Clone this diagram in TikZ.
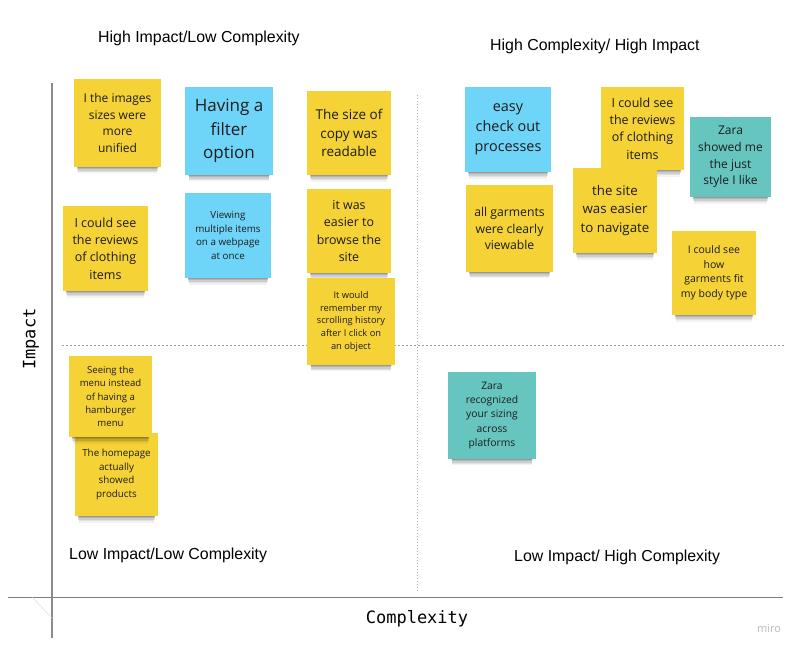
\documentclass[tikz,border=0pt]{standalone}
\usepackage{fontspec}
\setmainfont{Open Sans}
\newfontfamily\arialfont{Liberation Sans}
\newfontfamily\monofont{DejaVu Sans Mono}
\usetikzlibrary{shadows}

\definecolor{noteyellow}{HTML}{F5D236}
\definecolor{noteblue}{HTML}{6FD5F8}
\definecolor{noteteal}{HTML}{66C5BF}
\definecolor{notetext}{HTML}{1C1C1C}
\definecolor{axisgray}{HTML}{8C8C8C}

\newcommand{\nsize}[1]{\fontsize{#1}{#1}\selectfont\baselineskip=1.38\baselineskip}

\tikzset{
  sticky/.style={rectangle, inner sep=0pt, align=center, text=notetext,
    general shadow={fill=black, opacity=0.05, shadow yshift=-12pt, shadow scale=0.9},
    general shadow={fill=black, opacity=0.07, shadow yshift=-10pt, shadow scale=0.91},
    general shadow={fill=black, opacity=0.09, shadow yshift=-8pt, shadow scale=0.92},
    general shadow={fill=black, opacity=0.12, shadow yshift=-6pt, shadow scale=0.92},
    general shadow={fill=black, opacity=0.15, shadow yshift=-4pt, shadow scale=0.93}},
  yellownote/.style={sticky, fill=noteyellow},
  bluenote/.style={sticky, fill=noteblue},
  tealnote/.style={sticky, fill=noteteal},
  quadlabel/.style={font=\arialfont\fontsize{15.9}{19}\selectfont, anchor=base west, inner sep=0pt},
  axislabel/.style={font=\monofont\fontsize{17}{20}\selectfont, inner sep=0pt},
}

\begin{document}
\begin{tikzpicture}[x=1pt,y=1pt]
\useasboundingbox (0,-652) rectangle (800,0);
%axes
\draw[axisgray, line width=1.4pt] (52,-83) -- (52,-638);
\draw[axisgray!90!black, line width=1pt] (8,-597) -- (783,-597);
\draw[gray!35] (32,-597) -- (52,-618);
%quadrant lines
\draw[gray!75, dash pattern=on 2pt off 2pt, line width=0.7pt] (62,-345) -- (785,-345);
\draw[gray!60, dash pattern=on 1pt off 2pt, line width=1pt] (417,-95) -- (417,-593);

%quadrant titles
\node[quadlabel] (qHILC) at (98,-43) {High Impact/Low Complexity};
\node[quadlabel] (qHCHI) at (490,-51) {High Complexity/ High Impact};
\node[quadlabel] (qLILC) at (69,-559) {Low Impact/Low Complexity};
\node[quadlabel] (qLIHC) at (514,-561) {Low Impact/ High Complexity};
\node[axislabel, rotate=90] (lImpact) at (31,-339) {Impact};
\node[axislabel, anchor=base] (lComplexity) at (417,-623) {Complexity};
\node[text=gray!55, font=\fontsize{11}{13}\selectfont, inner sep=0pt] (lMiro) at (769,-629) {miro};

%high impact / low complexity
\node[yellownote, minimum width=87, minimum height=88, font=\nsize{12}] (imgsize) at (117.5,-123) {I the images\\sizes were\\more\\unified};
\node[bluenote, minimum width=88, minimum height=88, font=\nsize{17}] (filter) at (229,-131) {Having a\\filter\\option};
\node[yellownote, minimum width=84, minimum height=84, font=\nsize{13.5}] (copysize) at (349,-133) {The size of\\copy was\\readable};
\node[yellownote, minimum width=85, minimum height=85, font=\nsize{12.5}] (reviewsA) at (105.5,-248.5) {I could see\\the reviews\\of clothing\\items};
\node[bluenote, minimum width=86, minimum height=85, font=\nsize{9.8}] (multiview) at (228,-235.5) {Viewing\\multiple items\\on a webpage\\at once};
\node[yellownote, minimum width=84, minimum height=84, font=\nsize{12.4}] (browse) at (349,-231) {it was\\easier to\\browse the\\site};
\node[yellownote, minimum width=88, minimum height=87, font=\nsize{9.3}] (scroll) at (351,-321.5) {It would\\remember my\\scrolling history\\after I click on\\an object};

%high complexity / high impact
\node[bluenote, minimum width=86, minimum height=85, font=\nsize{14.4}] (checkout) at (508,-129.5) {easy\\check out\\processes};
\node[yellownote, minimum width=83, minimum height=83, font=\nsize{12.5}] (reviewsB) at (642.5,-128.5) {I could see\\the reviews\\of clothing\\items};
\node[tealnote, minimum width=81, minimum height=80, font=\nsize{12}] (style) at (730.5,-157) {Zara\\showed me\\the just\\style I like};
\node[yellownote, minimum width=87, minimum height=87, font=\nsize{12.2}] (garments) at (509.5,-228.5) {all garments\\were clearly\\viewable};
\node[yellownote, minimum width=84, minimum height=85, font=\nsize{13.3}] (navigate) at (615,-210.5) {the site\\was easier\\to navigate};
\node[yellownote, minimum width=84, minimum height=84, font=\nsize{10.5}] (fit) at (714,-273) {I could see\\how\\garments fit\\my body type};

%low impact
\node[yellownote, minimum width=83, minimum height=83, font=\nsize{9.8}] (homepage) at (116.5,-474.5) {The homepage\\actually\\showed\\products};
\node[yellownote, minimum width=83, minimum height=81, font=\nsize{9.6}] (menu) at (110.5,-396.5) {Seeing the\\menu instead\\of having a\\hamburger\\menu};
\node[tealnote, minimum width=88, minimum height=87, font=\nsize{10.3}] (sizing) at (492,-415.5) {Zara\\recognized\\your sizing\\across\\platforms};
\end{tikzpicture}
\end{document}
